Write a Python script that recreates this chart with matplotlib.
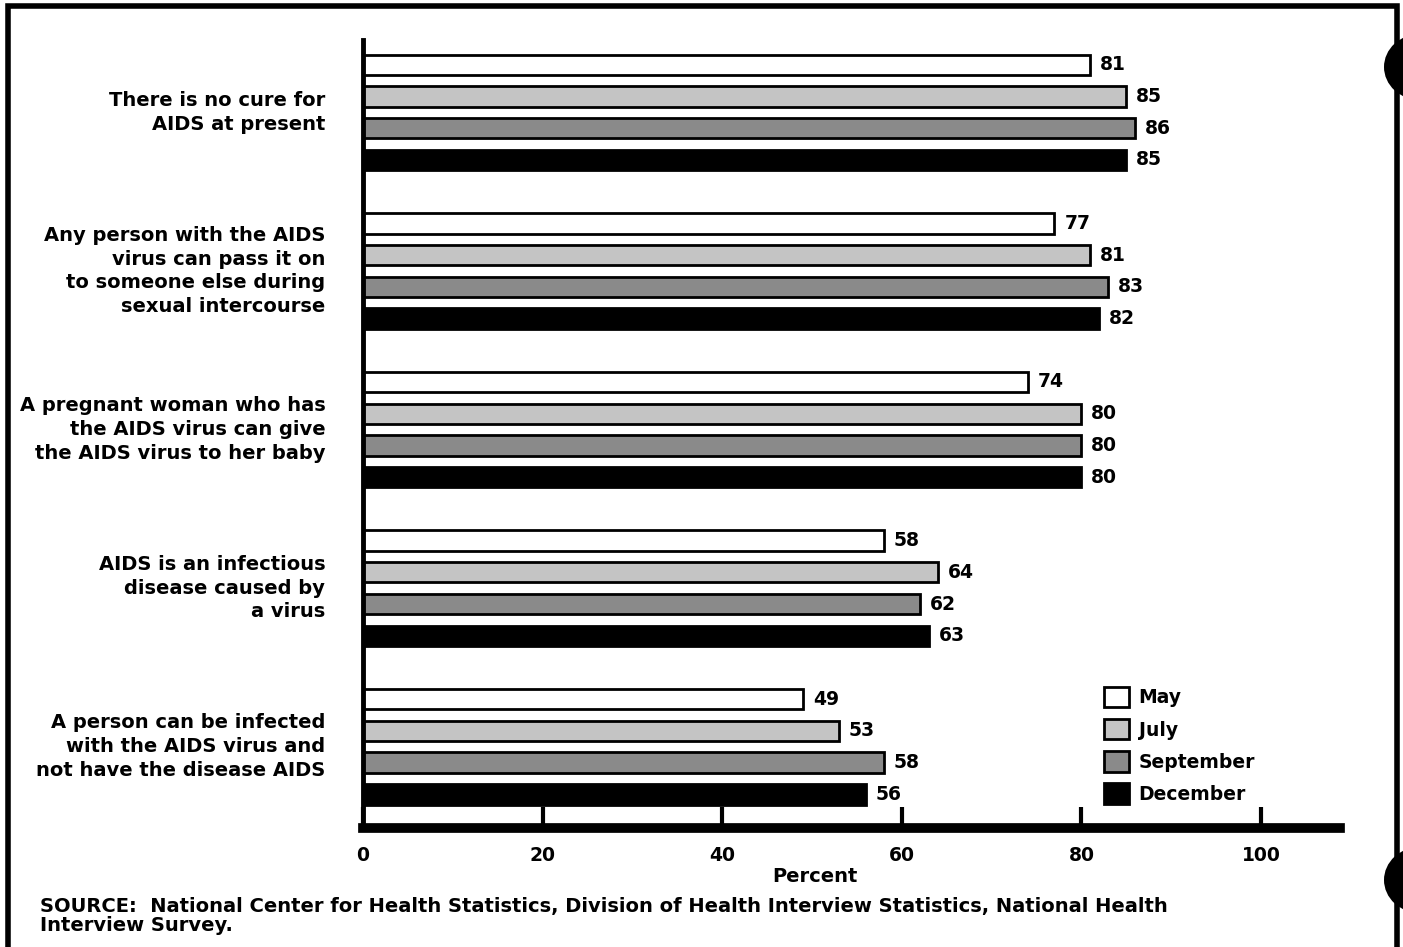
import matplotlib
matplotlib.use('Agg')
import matplotlib.pyplot as plt
from matplotlib.patches import Patch, Rectangle, Ellipse
import numpy as np

plt.rcParams['font.family'] = ['DejaVu Sans']
plt.rcParams['font.weight'] = 'bold'

# Data
statements = [
    'There is no cure for\nAIDS at present',
    'Any person with the AIDS\nvirus can pass it on\nto someone else during\nsexual intercourse',
    'A pregnant woman who has\nthe AIDS virus can give\nthe AIDS virus to her baby',
    'AIDS is an infectious\ndisease caused by\na virus',
    'A person can be infected\nwith the AIDS virus and\nnot have the disease AIDS',
]
months = ['May', 'July', 'September', 'December']
may = [81, 77, 74, 58, 49]
july = [85, 81, 80, 64, 53]
september = [86, 83, 80, 62, 58]
december = [85, 82, 80, 63, 56]
series = [may, july, september, december]
fills = ['white', '#c4c4c4', '#8a8a8a', 'black']
xticks = [0, 20, 40, 60, 80, 100]

W, H = 1403, 947
fig = plt.figure(figsize=(W / 100, H / 100), dpi=100)
ax = fig.add_axes([363 / W, 1 - 828 / H, (1340 - 363) / W, (828 - 40) / H])

group_gap = 5
for i, (vals, fc) in enumerate(zip(series, fills)):
    ypos = np.arange(len(statements)) * group_gap + i
    ax.barh(ypos, vals, height=0.64, color=fc, edgecolor='black', linewidth=2)
    for y, v in zip(ypos, vals):
        ax.text(v + 1.1, y, str(v), va='center', ha='left', fontsize=13.5, fontweight='bold')

ax.set_xlim(0, 108.8)
ax.set_ylim(group_gap * (len(statements) - 1) + 3 + 1.06, -0.78)

centers = np.arange(len(statements)) * group_gap + 1.5
ax.set_yticks([])
for c, s in zip(centers, statements):
    ax.text(-4.2, c, s, ha='right', va='center', fontsize=14, fontweight='bold',
            linespacing=1.32)

ax.set_xticks(xticks)
ax.set_xticklabels([str(t) for t in xticks], fontsize=13.5, fontweight='bold')
ax.tick_params(axis='x', direction='in', length=15, width=3, pad=13)
ax.set_xlabel('Percent', fontsize=14, fontweight='bold')
ax.xaxis.set_label_coords((815 - 363) / (1340 - 363), -0.049)

ax.spines['top'].set_visible(False)
ax.spines['right'].set_visible(False)
ax.spines['left'].set_linewidth(3.5)
ax.spines['bottom'].set_linewidth(7)

handles = [Patch(facecolor=fc, edgecolor='black', linewidth=2, label=m) for fc, m in zip(fills, months)]
fig.legend(handles=handles, loc='upper left', bbox_to_anchor=(1087 / W, 1 - 670 / H),
           frameon=False, handlelength=1.35, handleheight=1.3,
           labelspacing=0.62, handletextpad=0.5, prop={'weight': 'bold', 'size': 13.5})

fig.text(40 / W, 1 - 916 / H,
         'SOURCE:  National Center for Health Statistics, Division of Health Interview Statistics, National Health\nInterview Survey.',
         ha='left', va='center', fontsize=14, fontweight='bold', linespacing=1.0)

# page frame and punch holes of the scan
fig.patches.append(Rectangle((8 / W, -0.02), (1397 - 8) / W, 1.02 - 6 / H,
                             transform=fig.transFigure, fill=False, edgecolor='black',
                             linewidth=4))
for cy in (67, 880):
    fig.patches.append(Ellipse((1420 / W, 1 - cy / H), 72 / W, 66 / H,
                               transform=fig.transFigure, facecolor='black', edgecolor='none'))

fig.savefig('out.png', dpi=100)
